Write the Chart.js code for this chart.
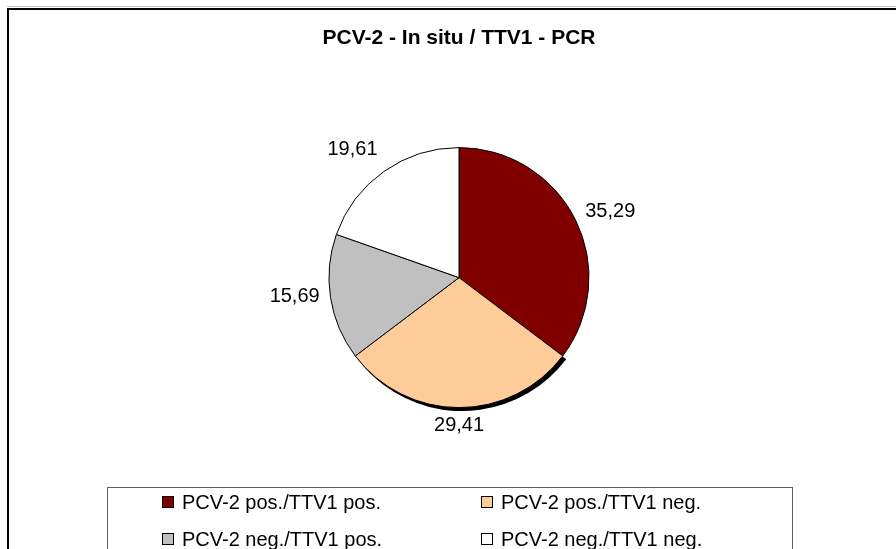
<!DOCTYPE html>
<html>
<head>
<meta charset="utf-8">
<script src="https://cdn.jsdelivr.net/npm/chart.js@4.4.1/dist/chart.umd.min.js"></script>
<style>
  html, body { margin: 0; padding: 0; background: #fff; }
  #wrap { width: 896px; height: 549px; }
</style>
</head>
<body>
<div id="wrap"><canvas id="myChart" width="896" height="549"></canvas></div>
<script>
// Chart data
const chartTitle = 'PCV-2 - In situ / TTV1 - PCR';
const categories = ['PCV-2 pos./TTV1 pos.', 'PCV-2 pos./TTV1 neg.', 'PCV-2 neg./TTV1 pos.', 'PCV-2 neg./TTV1 neg.'];
const values = [35.29, 29.41, 15.69, 19.61];
const sliceColors = ['#800000', '#FFCC99', '#C0C0C0', '#FFFFFF'];
const shadowSlice = 1; // only this slice carries a shadow in the original

const FONT = '"Liberation Sans", Arial, sans-serif';

// white page + outer frame (left and top edges only are visible)
const framePlugin = {
    id: 'frame',
    beforeDraw(chart) {
        const ctx = chart.ctx;
        ctx.save();
        ctx.fillStyle = '#fff';
        ctx.fillRect(0, 0, chart.width, chart.height);
        ctx.strokeStyle = '#c0c0c0';
        ctx.lineWidth = 1;
        ctx.beginPath();
        ctx.moveTo(7, 6.5);
        ctx.lineTo(chart.width, 6.5);
        ctx.stroke();
        ctx.strokeStyle = '#000';
        ctx.lineWidth = 2;
        ctx.beginPath();
        ctx.moveTo(chart.width, 9);
        ctx.lineTo(8, 9);
        ctx.lineTo(8, chart.height);
        ctx.stroke();
        ctx.restore();
    }
};

// drop shadow under one slice
const shadowPlugin = {
    id: 'sliceShadow',
    beforeDatasetsDraw(chart) {
        const arc = chart.getDatasetMeta(0).data[shadowSlice];
        if (!arc) return;
        const ctx = chart.ctx;
        const dx = 3, dy = 3;
        ctx.save();
        ctx.fillStyle = '#000';
        ctx.beginPath();
        ctx.moveTo(arc.x + dx, arc.y + dy);
        ctx.arc(arc.x + dx, arc.y + dy, arc.outerRadius + 0.5, arc.startAngle, arc.endAngle);
        ctx.closePath();
        ctx.fill();
        ctx.restore();
    }
};

// value labels outside the slices
const labelPlugin = {
    id: 'outsideLabels',
    afterDatasetsDraw(chart) {
        const ctx = chart.ctx;
        const meta = chart.getDatasetMeta(0);
        const data = chart.data.datasets[0].data;
        ctx.save();
        ctx.font = '20px ' + FONT;
        ctx.fillStyle = '#000';
        meta.data.forEach(function (arc, i) {
            const a = (arc.startAngle + arc.endAngle) / 2;
            const r = arc.outerRadius + 11;
            const c = Math.cos(a), s = Math.sin(a);
            const x = arc.x + c * r;
            const y = arc.y + s * r - 3;
            ctx.textAlign = c > 0.25 ? 'left' : (c < -0.25 ? 'right' : 'center');
            ctx.textBaseline = s > 0.5 ? 'top' : (s < -0.5 ? 'bottom' : 'middle');
            ctx.fillText(data[i].toFixed(2).replace('.', ','), x, y);
        });
        ctx.restore();
    }
};

// boxed two-column legend at the bottom
const legendPlugin = {
    id: 'boxLegend',
    afterDraw(chart) {
        const ctx = chart.ctx;
        const box = { left: 107, right: 792, top: 487 };
        const colX = [162, 481];
        const rowY = [502, 539];
        const colors = chart.data.datasets[0].backgroundColor;
        ctx.save();
        ctx.strokeStyle = '#606060';
        ctx.lineWidth = 1;
        ctx.strokeRect(box.left + 0.5, box.top + 0.5, box.right - box.left, chart.height + 10 - box.top);
        ctx.font = '20px ' + FONT;
        ctx.textBaseline = 'middle';
        ctx.textAlign = 'left';
        chart.data.labels.forEach(function (label, i) {
            const x = colX[i % 2];
            const y = rowY[Math.floor(i / 2)];
            ctx.fillStyle = colors[i];
            ctx.fillRect(x, y - 6, 12, 12);
            ctx.strokeStyle = '#000';
            ctx.strokeRect(x + 0.5, y - 5.5, 11, 11);
            ctx.fillStyle = '#000';
            ctx.fillText(label, x + 20, y + 1);
        });
        ctx.restore();
    }
};

const ctx = document.getElementById('myChart').getContext('2d');
const myChart = new Chart(ctx, {
    type: 'pie',
    data: {
        labels: categories,
        datasets: [{
            data: values,
            backgroundColor: sliceColors,
            borderColor: '#000',
            borderWidth: 1,
            hoverOffset: 0
        }]
    },
    options: {
        responsive: false,
        animation: false,
        radius: 130,
        layout: {
            padding: { left: 200, right: 178, top: 0, bottom: 75 }
        },
        plugins: {
            legend: { display: false },
            tooltip: { enabled: false },
            title: {
                display: true,
                text: chartTitle,
                color: '#000',
                font: { family: FONT, size: 21, weight: 'bold' },
                padding: { top: 26, bottom: 30 }
            }
        }
    },
    plugins: [framePlugin, shadowPlugin, labelPlugin, legendPlugin]
});
</script>
</body>
</html>
